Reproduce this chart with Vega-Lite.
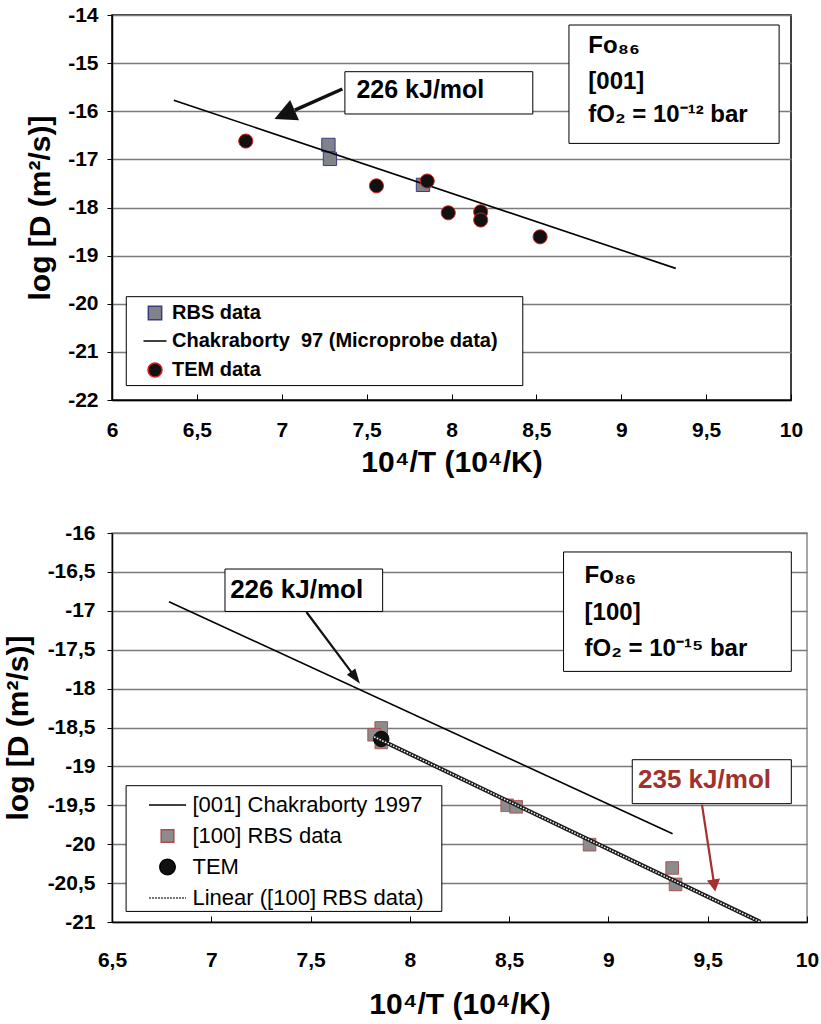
{
  "$schema": "https://vega.github.io/schema/vega-lite/v6.json",
  "padding": {"left": 2, "top": 3, "right": 2, "bottom": 2},
  "spacing": 43,
  "config": {
    "locale": {"number": {"decimal": ",", "thousands": ".", "grouping": [3], "currency": ["", " €"], "minus": "-"}},
    "font": "Liberation Sans",
    "axis": {
      "labelFont": "Liberation Sans", "labelFontSize": 21, "labelFontWeight": "bold", "labelColor": "black",
      "titleFont": "Liberation Sans", "titleFontSize": 30, "titleFontWeight": "bold", "titleColor": "black",
      "domainColor": "black", "domainWidth": 1.5, "tickColor": "black", "tickWidth": 1,
      "gridColor": "#7a7a7a", "gridWidth": 1.5, "labelFlush": false, "labelOverlap": false, "labelBound": false
    },
    "text": {"font": "Liberation Sans"}
  },
  "datasets": {
    "top_pts": [
      {"series": "RBS data", "x": 7.275, "y": -16.70},
      {"series": "RBS data", "x": 7.284, "y": -16.99},
      {"series": "RBS data", "x": 7.832, "y": -17.53},
      {"series": "TEM data", "x": 6.788, "y": -16.62},
      {"series": "TEM data", "x": 7.558, "y": -17.55},
      {"series": "TEM data", "x": 7.857, "y": -17.45},
      {"series": "TEM data", "x": 7.981, "y": -18.11},
      {"series": "TEM data", "x": 8.172, "y": -18.09},
      {"series": "TEM data", "x": 8.172, "y": -18.26},
      {"series": "TEM data", "x": 8.522, "y": -18.61}
    ],
    "top_line": [{"x": 6.364, "y": -15.77}, {"x": 9.321, "y": -19.265}],
    "top_boxes": [
      {"x": 6.084, "x2": 8.42, "y": -19.853, "y2": -21.70},
      {"x": 7.372, "x2": 8.479, "y": -15.178, "y2": -16.057},
      {"x": 8.692, "x2": 9.930, "y": -14.208, "y2": -16.668}
    ],
    "top_arrow": [{"x": 7.357, "y": -15.538, "x2": 7.077, "y2": -15.978}],
    "top_head": [{"x": 6.957, "y": -16.161}],
    "top_ann": [{"x": 7.44, "y": -15.558, "label": "226 kJ/mol"}],
    "top_fo": [
      {"x": 8.806, "y": -14.798, "label": "Fo₈₆"},
      {"x": 8.806, "y": -15.531, "label": "[001]"},
      {"x": 8.806, "y": -16.217, "label": "fO₂ = 10⁻¹² bar"}
    ],
    "bot_pts": [
      {"s": "[100] RBS data", "x": 7.856, "y": -18.506},
      {"s": "[100] RBS data", "x": 7.820, "y": -18.593},
      {"s": "[100] RBS data", "x": 7.856, "y": -18.692},
      {"s": "[100] RBS data", "x": 8.49, "y": -19.50},
      {"s": "[100] RBS data", "x": 8.535, "y": -19.52},
      {"s": "[100] RBS data", "x": 8.905, "y": -20.006},
      {"s": "[100] RBS data", "x": 9.321, "y": -20.306},
      {"s": "[100] RBS data", "x": 9.338, "y": -20.517},
      {"s": "TEM", "x": 7.856, "y": -18.648}
    ],
    "bot_chak": [{"x": 6.787, "y": -16.883}, {"x": 9.323, "y": -19.865}],
    "bot_fit": [{"x": 7.82, "y": -18.62}, {"x": 9.765, "y": -21.0}],
    "bot_boxes": [
      {"x": 6.571, "x2": 8.161, "y": -19.248, "y2": -20.864},
      {"x": 7.069, "x2": 7.863, "y": -16.463, "y2": -17.008},
      {"x": 8.774, "x2": 9.921, "y": -16.244, "y2": -17.779},
      {"x": 9.12, "x2": 9.921, "y": -18.914, "y2": -19.479}
    ],
    "bot_arrow": [{"x": 7.479, "y": -17.015, "x2": 7.713, "y2": -17.814}],
    "bot_head": [{"x": 7.749, "y": -17.937}],
    "red_arrow": [{"x": 9.471, "y": -19.492, "x2": 9.531, "y2": -20.492}],
    "red_head": [{"x": 9.538, "y": -20.607}],
    "bot_ann": [{"x": 7.095, "y": -16.729, "label": "226 kJ/mol"}],
    "red_ann": [{"x": 9.149, "y": -19.171, "label": "235 kJ/mol"}],
    "bot_fo": [
      {"x": 8.880, "y": -16.639, "label": "Fo₈₆"},
      {"x": 8.880, "y": -17.114, "label": "[100]"},
      {"x": 8.880, "y": -17.586, "label": "fO₂ = 10⁻¹⁵ bar"}
    ]
  },
  "vconcat": [
    {
      "width": 679, "height": 385,
      "view": {"stroke": "black", "strokeWidth": 1.5},
      "encoding": {
        "x": {"field": "x", "type": "quantitative",
          "scale": {"domain": [6, 10], "nice": false, "zero": false},
          "axis": {"values": [6, 6.5, 7, 7.5, 8, 8.5, 9, 9.5, 10], "format": "~g", "title": "10⁴/T (10⁴/K)", "grid": false, "tickSize": -6, "labelPadding": 25, "titlePadding": 7}},
        "y": {"field": "y", "type": "quantitative",
          "scale": {"domain": [-22, -14], "nice": false, "zero": false},
          "axis": {"values": [-22, -21, -20, -19, -18, -17, -16, -15, -14], "format": "~g", "title": "log [D (m²/s)]", "grid": true, "tickSize": 5, "labelPadding": 9, "titlePadding": 12}}
      },
      "layer": [
        {
          "data": {"name": "top_boxes"},
          "mark": {"type": "rect", "fill": "white", "stroke": "black", "strokeWidth": 1},
          "encoding": {"x2": {"field": "x2"}, "y2": {"field": "y2"}}
        },
        {
          "data": {"name": "top_pts"},
          "transform": [{"filter": "datum.series === 'RBS data'"}],
          "mark": {"type": "point", "filled": true, "size": 324, "opacity": 1, "strokeWidth": 1},
          "encoding": {
            "shape": {"field": "series", "type": "nominal",
              "scale": {"domain": ["RBS data", "Chakraborty\u00a0 97 (Microprobe data)", "TEM data"],
                "range": ["M-0.74,-0.74H0.74V0.74H-0.74Z", "M-1.28,0H1.28", "M-0.78,0A0.78,0.78,0,1,0,0.78,0A0.78,0.78,0,1,0,-0.78,0Z"]},
              "legend": {"orient": "none", "legendX": 33, "legendY": 288, "title": null, "padding": 0,
                "labelFont": "Liberation Sans", "labelFontSize": 20, "labelFontWeight": "bold", "labelColor": "black",
                "labelOffset": 7, "rowPadding": 8, "symbolSize": 324, "symbolStrokeWidth": 1.5, "labelLimit": 500}},
            "fill": {"field": "series", "type": "nominal",
              "scale": {"domain": ["RBS data", "Chakraborty\u00a0 97 (Microprobe data)", "TEM data"], "range": ["#808389", "#000000", "#111111"]},
              "legend": {"orient": "none", "legendX": 33, "legendY": 288, "title": null, "padding": 0,
                "labelFont": "Liberation Sans", "labelFontSize": 20, "labelFontWeight": "bold", "labelColor": "black",
                "labelOffset": 7, "rowPadding": 8, "symbolSize": 324, "symbolStrokeWidth": 1.5, "labelLimit": 500}},
            "stroke": {"field": "series", "type": "nominal",
              "scale": {"domain": ["RBS data", "Chakraborty\u00a0 97 (Microprobe data)", "TEM data"], "range": ["#3b3b80", "#000000", "#e0201c"]},
              "legend": {"orient": "none", "legendX": 33, "legendY": 288, "title": null, "padding": 0,
                "labelFont": "Liberation Sans", "labelFontSize": 20, "labelFontWeight": "bold", "labelColor": "black",
                "labelOffset": 7, "rowPadding": 8, "symbolSize": 324, "symbolStrokeWidth": 1.5, "labelLimit": 500}}
          }
        },
        {
          "data": {"name": "top_line"},
          "mark": {"type": "line", "color": "black", "strokeWidth": 1.6},
          "encoding": {}
        },
        {
          "data": {"name": "top_pts"},
          "transform": [{"filter": "datum.series === 'TEM data'"}],
          "mark": {"type": "point", "filled": true, "size": 324, "opacity": 1, "strokeWidth": 1},
          "encoding": {
            "shape": {"field": "series", "type": "nominal",
              "scale": {"domain": ["RBS data", "Chakraborty\u00a0 97 (Microprobe data)", "TEM data"],
                "range": ["M-0.74,-0.74H0.74V0.74H-0.74Z", "M-1.28,0H1.28", "M-0.78,0A0.78,0.78,0,1,0,0.78,0A0.78,0.78,0,1,0,-0.78,0Z"]}},
            "fill": {"field": "series", "type": "nominal",
              "scale": {"domain": ["RBS data", "Chakraborty\u00a0 97 (Microprobe data)", "TEM data"], "range": ["#808389", "#000000", "#111111"]}},
            "stroke": {"field": "series", "type": "nominal",
              "scale": {"domain": ["RBS data", "Chakraborty\u00a0 97 (Microprobe data)", "TEM data"], "range": ["#3b3b80", "#000000", "#e0201c"]}}
          }
        },
        {
          "data": {"name": "top_arrow"},
          "mark": {"type": "rule", "color": "#111111", "strokeWidth": 3.5},
          "encoding": {"x2": {"field": "x2"}, "y2": {"field": "y2"}}
        },
        {
          "data": {"name": "top_head"},
          "mark": {"type": "point", "shape": "M0,0L-1,2L1,2Z", "size": 484, "angle": 246.2, "filled": true, "color": "#111111", "opacity": 1, "strokeWidth": 0},
          "encoding": {}
        },
        {
          "data": {"name": "top_ann"},
          "mark": {"type": "text", "align": "left", "baseline": "middle", "fontSize": 25, "fontWeight": "bold", "color": "black"},
          "encoding": {"text": {"field": "label"}}
        },
        {
          "data": {"name": "top_fo"},
          "mark": {"type": "text", "align": "left", "baseline": "alphabetic", "fontSize": 24, "fontWeight": "bold", "color": "black"},
          "encoding": {"text": {"field": "label"}}
        }
      ]
    },
    {
      "width": 695, "height": 389,
      "view": {"stroke": "#8a8a8a", "strokeWidth": 1.5},
      "encoding": {
        "x": {"field": "x", "type": "quantitative",
          "scale": {"domain": [6.5, 10], "nice": false, "zero": false},
          "axis": {"values": [6.5, 7, 7.5, 8, 8.5, 9, 9.5, 10], "format": "~g", "title": "10⁴/T (10⁴/K)", "grid": false, "tickSize": -6, "labelPadding": 33, "titlePadding": 19}},
        "y": {"field": "y", "type": "quantitative",
          "scale": {"domain": [-21, -16], "nice": false, "zero": false},
          "axis": {"values": [-21, -20.5, -20, -19.5, -19, -18.5, -18, -17.5, -17, -16.5, -16], "format": "~g", "title": "log [D (m²/s)]", "grid": true, "tickSize": 5, "labelPadding": 12, "titlePadding": 14}}
      },
      "layer": [
        {
          "data": {"name": "bot_boxes"},
          "mark": {"type": "rect", "fill": "white", "stroke": "black", "strokeWidth": 1},
          "encoding": {"x2": {"field": "x2"}, "y2": {"field": "y2"}}
        },
        {
          "data": {"name": "bot_pts"},
          "mark": {"type": "point", "filled": true, "size": 324, "opacity": 1, "strokeWidth": 1},
          "encoding": {
            "shape": {"field": "s", "type": "nominal",
              "scale": {"domain": ["[001] Chakraborty 1997", "[100] RBS data", "TEM", "Linear ([100] RBS data)"],
                "range": ["M-2.06,0H2.06", "M-0.7,-0.7H0.7V0.7H-0.7Z", "M-0.85,0A0.85,0.85,0,1,0,0.85,0A0.85,0.85,0,1,0,-0.85,0Z", "M-2.06,0H2.06"]},
              "legend": {"orient": "none", "legendX": 44.5, "legendY": 261, "title": null, "padding": 0,
                "labelFont": "Liberation Sans", "labelFontSize": 22, "labelFontWeight": "normal", "labelColor": "black",
                "labelOffset": 14, "rowPadding": 9, "symbolSize": 324, "symbolStrokeWidth": 1.5, "labelLimit": 500}},
            "fill": {"field": "s", "type": "nominal",
              "scale": {"domain": ["[001] Chakraborty 1997", "[100] RBS data", "TEM", "Linear ([100] RBS data)"], "range": ["#000000", "#8c8c8c", "#111111", "#000000"]},
              "legend": {"orient": "none", "legendX": 44.5, "legendY": 261, "title": null, "padding": 0,
                "labelFont": "Liberation Sans", "labelFontSize": 22, "labelFontWeight": "normal", "labelColor": "black",
                "labelOffset": 14, "rowPadding": 9, "symbolSize": 324, "symbolStrokeWidth": 1.5, "labelLimit": 500}},
            "stroke": {"field": "s", "type": "nominal",
              "scale": {"domain": ["[001] Chakraborty 1997", "[100] RBS data", "TEM", "Linear ([100] RBS data)"], "range": ["#000000", "#b04a4a", "#000000", "#444444"]},
              "legend": {"orient": "none", "legendX": 44.5, "legendY": 261, "title": null, "padding": 0,
                "labelFont": "Liberation Sans", "labelFontSize": 22, "labelFontWeight": "normal", "labelColor": "black",
                "labelOffset": 14, "rowPadding": 9, "symbolSize": 324, "symbolStrokeWidth": 1.5, "labelLimit": 500}},
            "strokeDash": {"field": "s", "type": "nominal",
              "scale": {"domain": ["[001] Chakraborty 1997", "[100] RBS data", "TEM", "Linear ([100] RBS data)"], "range": [[1, 0], [1, 0], [1, 0], [2, 1]]},
              "legend": {"orient": "none", "legendX": 44.5, "legendY": 261, "title": null, "padding": 0,
                "labelFont": "Liberation Sans", "labelFontSize": 22, "labelFontWeight": "normal", "labelColor": "black",
                "labelOffset": 14, "rowPadding": 9, "symbolSize": 324, "symbolStrokeWidth": 1.5, "labelLimit": 500}}
          }
        },
        {
          "data": {"name": "bot_chak"},
          "mark": {"type": "line", "color": "black", "strokeWidth": 1.6},
          "encoding": {}
        },
        {
          "data": {"name": "bot_fit"},
          "mark": {"type": "line", "color": "#1a1a1a", "strokeWidth": 4.2, "clip": true},
          "encoding": {}
        },
        {
          "data": {"name": "bot_fit"},
          "mark": {"type": "line", "color": "white", "strokeWidth": 1.5, "strokeDash": [1.5, 1.5], "clip": true},
          "encoding": {}
        },
        {
          "data": {"name": "bot_arrow"},
          "mark": {"type": "rule", "color": "#111111", "strokeWidth": 2.2},
          "encoding": {"x2": {"field": "x2"}, "y2": {"field": "y2"}}
        },
        {
          "data": {"name": "bot_head"},
          "mark": {"type": "point", "shape": "M0,0L-0.7,2L0.7,2Z", "size": 225, "angle": 143.3, "filled": true, "color": "#111111", "opacity": 1, "strokeWidth": 0},
          "encoding": {}
        },
        {
          "data": {"name": "red_arrow"},
          "mark": {"type": "rule", "color": "#a3302c", "strokeWidth": 2.2},
          "encoding": {"x2": {"field": "x2"}, "y2": {"field": "y2"}}
        },
        {
          "data": {"name": "red_head"},
          "mark": {"type": "point", "shape": "M0,0L-1.1,2L1.1,2Z", "size": 144, "angle": 171.3, "filled": true, "color": "#a3302c", "opacity": 1, "strokeWidth": 0},
          "encoding": {}
        },
        {
          "data": {"name": "bot_ann"},
          "mark": {"type": "text", "align": "left", "baseline": "middle", "fontSize": 26, "fontWeight": "bold", "color": "black"},
          "encoding": {"text": {"field": "label"}}
        },
        {
          "data": {"name": "red_ann"},
          "mark": {"type": "text", "align": "left", "baseline": "middle", "fontSize": 26, "fontWeight": "bold", "color": "#a3302c"},
          "encoding": {"text": {"field": "label"}}
        },
        {
          "data": {"name": "bot_fo"},
          "mark": {"type": "text", "align": "left", "baseline": "alphabetic", "fontSize": 24, "fontWeight": "bold", "color": "black"},
          "encoding": {"text": {"field": "label"}}
        }
      ]
    }
  ],
  "resolve": {
    "scale": {"shape": "independent", "fill": "independent", "stroke": "independent", "strokeDash": "independent"},
    "legend": {"shape": "independent", "fill": "independent", "stroke": "independent", "strokeDash": "independent"}
  }
}
